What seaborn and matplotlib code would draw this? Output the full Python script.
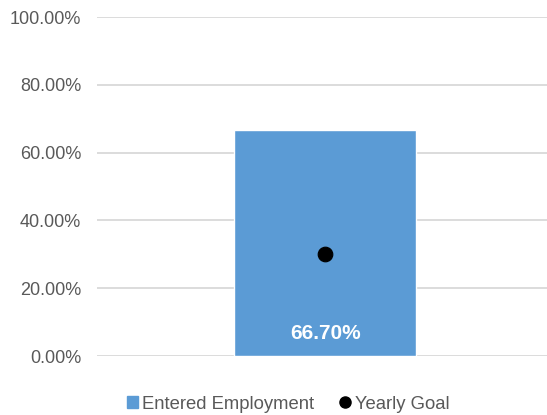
import matplotlib
matplotlib.use("Agg")
import matplotlib.pyplot as plt
import seaborn as sns
import pandas as pd
from matplotlib.lines import Line2D
from matplotlib.patches import Patch

categories = ["Entered Employment"]
entered_employment = [0.667]
yearly_goal = [0.30]
y_ticks = [0.0, 0.2, 0.4, 0.6, 0.8, 1.0]

sns.set_theme(style="white")
plt.rcParams['font.family'] = ['Liberation Sans', 'DejaVu Sans']

df = pd.DataFrame({"cat": categories, "value": entered_employment, "goal": yearly_goal})

fig = plt.figure(figsize=(5.47, 4.15), dpi=100)
ax = fig.add_axes([97/547, 1-356/415, 450/547, 339/415])

bar_color = "#5B9BD5"
sns.barplot(data=df, x="cat", y="value", color=bar_color, width=0.405,
            saturation=1, ax=ax, zorder=2)
sns.scatterplot(data=df, x="cat", y="goal", color="black", s=110,
                edgecolor="black", ax=ax, zorder=3)

ax.set_xlim(-0.507, 0.493)
ax.set_ylim(0, 1.0)
ax.set_yticks(y_ticks)
ax.set_yticklabels([f"{v*100:.2f}%" for v in y_ticks], color="#595959", fontsize=13)
ax.set_xticks([])
ax.set_xlabel("")
ax.set_ylabel("")
ax.yaxis.grid(True, color="#d9d9d9", linewidth=1.3, zorder=0)
ax.set_axisbelow(True)
for s in ax.spines.values():
    s.set_visible(False)
ax.tick_params(axis="y", length=0, pad=11.5)

for i, v in enumerate(entered_employment):
    ax.text(i, 0.065, f"{v*100:.2f}%", ha="center", va="center",
            color="white", fontsize=15, fontweight="bold")

handles = [Patch(facecolor=bar_color, edgecolor=bar_color, label="Entered Employment"),
           Line2D([], [], marker="o", color="black", linestyle="none", markersize=8,
                  label="Yearly Goal")]
fig.legend(handles=handles, loc="center", bbox_to_anchor=(0.527, 1-404/415), ncol=2,
           frameon=False, fontsize=13.3, handlelength=0.6, handleheight=0.6,
           handletextpad=0.2, columnspacing=1.4, labelcolor="#595959")

fig.savefig("out.png", dpi=100)
